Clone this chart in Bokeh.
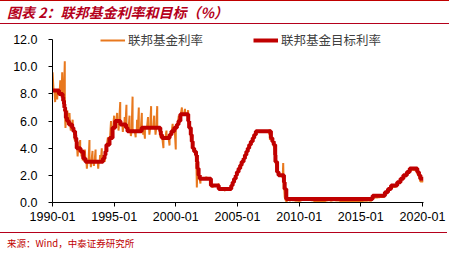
import pandas as pd
from bokeh.plotting import figure
from bokeh.layouts import column
from bokeh.models import Range1d, FixedTicker, DatetimeTickFormatter, Legend, LegendItem, NumeralTickFormatter, Div
from bokeh.embed import file_html
from bokeh.resources import INLINE

title_text = "图表 2：联邦基金利率和目标（%）"
source_text = "来源：Wind，中泰证券研究所"
series_names = ["联邦基金利率", "联邦基金目标利率"]
x_tick_dates = ["1990-01-01", "1995-01-01", "2000-01-01", "2005-01-01", "2010-01-01", "2015-01-01", "2020-01-01"]
y_ticks = [0, 2, 4, 6, 8, 10, 12]

# effective federal funds rate, monthly, 1990-01 .. 2020-02
eff_1990s = [
    8.23, 8.24, 8.28, 8.26, 8.18, 8.29, 8.15, 8.13, 8.20, 8.11, 7.81, 7.31,
    6.91, 6.25, 6.12, 5.91, 5.78, 5.90, 5.82, 5.66, 5.45, 5.21, 4.81, 4.43,
    4.03, 4.06, 3.98, 3.73, 3.82, 3.76, 3.25, 3.30, 3.22, 3.10, 3.09, 2.92,
    3.02, 3.03, 3.07, 2.96, 3.00, 3.04, 3.06, 3.03, 3.09, 2.99, 3.02, 2.96,
    3.05, 3.25, 3.34, 3.56, 4.01, 4.25, 4.26, 4.47, 4.73, 4.76, 5.29, 5.45,
    5.53, 5.92, 5.98, 6.05, 6.01, 6.00, 5.85, 5.74, 5.80, 5.76, 5.80, 5.60,
    5.56, 5.22, 5.31, 5.22, 5.24, 5.27, 5.40, 5.22, 5.30, 5.24, 5.31, 5.29,
    5.25, 5.19, 5.39, 5.51, 5.50, 5.56, 5.52, 5.54, 5.54, 5.50, 5.52, 5.50,
    5.56, 5.51, 5.49, 5.45, 5.49, 5.56, 5.54, 5.55, 5.51, 5.07, 4.83, 4.68,
    4.63, 4.76, 4.81, 4.74, 4.74, 4.76, 4.99, 5.07, 5.22, 5.20, 5.42, 5.30,
]
eff_2000s = [
    5.45, 5.73, 5.85, 6.02, 6.27, 6.53, 6.54, 6.50, 6.52, 6.51, 6.51, 6.40,
    5.98, 5.49, 5.31, 4.80, 4.21, 3.97, 3.77, 3.65, 3.07, 2.49, 2.09, 1.82,
    1.73, 1.74, 1.73, 1.75, 1.75, 1.75, 1.73, 1.74, 1.75, 1.75, 1.34, 1.24,
    1.24, 1.26, 1.25, 1.26, 1.26, 1.22, 1.01, 1.03, 1.01, 1.01, 1.00, 0.98,
    1.00, 1.01, 1.00, 1.00, 1.00, 1.03, 1.26, 1.43, 1.61, 1.76, 1.93, 2.16,
    2.28, 2.50, 2.63, 2.79, 3.00, 3.04, 3.26, 3.50, 3.62, 3.78, 4.00, 4.16,
    4.29, 4.49, 4.59, 4.79, 4.94, 4.99, 5.24, 5.25, 5.25, 5.25, 5.25, 5.24,
    5.25, 5.26, 5.26, 5.25, 5.25, 5.25, 5.26, 5.02, 4.94, 4.76, 4.49, 4.24,
    3.94, 2.98, 2.61, 2.28, 1.98, 2.00, 2.01, 2.00, 1.81, 0.97, 0.39, 0.16,
    0.15, 0.22, 0.18, 0.15, 0.18, 0.21, 0.16, 0.16, 0.15, 0.12, 0.12, 0.12,
]
eff_2010s = [
    0.11, 0.13, 0.16, 0.20, 0.20, 0.18, 0.18, 0.19, 0.19, 0.19, 0.19, 0.18,
    0.17, 0.16, 0.14, 0.10, 0.09, 0.09, 0.07, 0.10, 0.08, 0.07, 0.08, 0.07,
    0.08, 0.10, 0.13, 0.14, 0.16, 0.16, 0.16, 0.13, 0.14, 0.16, 0.16, 0.16,
    0.14, 0.15, 0.14, 0.15, 0.11, 0.09, 0.09, 0.08, 0.08, 0.09, 0.08, 0.09,
    0.07, 0.07, 0.08, 0.09, 0.09, 0.10, 0.09, 0.09, 0.09, 0.09, 0.09, 0.12,
    0.11, 0.11, 0.11, 0.12, 0.12, 0.13, 0.13, 0.14, 0.14, 0.12, 0.12, 0.24,
    0.34, 0.38, 0.36, 0.37, 0.37, 0.38, 0.39, 0.40, 0.40, 0.40, 0.41, 0.54,
    0.65, 0.66, 0.79, 0.90, 0.91, 1.04, 1.15, 1.16, 1.15, 1.15, 1.16, 1.30,
    1.41, 1.42, 1.51, 1.69, 1.70, 1.82, 1.91, 1.91, 1.95, 2.19, 2.20, 2.27,
    2.40, 2.40, 2.41, 2.42, 2.39, 2.38, 2.40, 2.13, 2.04, 1.83, 1.55, 1.55,
    1.55, 1.58,
]

# daily excursions of the effective rate
spike_dates = [
    "1990-01-03", "1990-03-20", "1990-05-20", "1990-08-20", "1990-10-15", "1990-12-31",
    "1991-01-20", "1991-03-15", "1991-05-20", "1991-06-28", "1991-08-20", "1991-10-20",
    "1992-01-15", "1992-03-31", "1992-05-10", "1992-06-15", "1992-08-15", "1992-10-15",
    "1992-12-31", "1993-02-10", "1993-03-31", "1993-05-10", "1993-06-30", "1993-09-15",
    "1993-11-10", "1993-12-31", "1994-03-31", "1994-06-30", "1994-09-30", "1994-12-31",
    "1995-03-31", "1995-05-10", "1995-06-30", "1995-09-15", "1995-11-10", "1995-12-31",
    "1996-03-31", "1996-05-10", "1996-06-30", "1996-09-30", "1996-11-10", "1996-12-31",
    "1997-03-31", "1997-05-10", "1997-06-30", "1997-09-30", "1997-11-10", "1997-12-31",
    "1998-03-31", "1998-05-10", "1998-06-30", "1998-09-30", "1998-12-31",
    "1999-03-31", "1999-06-30", "1999-09-30", "1999-12-31",
    "2000-03-31", "2000-06-30", "2000-09-30", "2000-12-31",
    "2001-03-31", "2001-09-15", "2001-12-31",
    "2002-06-30", "2002-12-31", "2003-06-30", "2003-12-31",
    "2007-08-10", "2007-08-20", "2008-01-22", "2008-09-16", "2008-10-10", "2008-12-31",
]
spike_values = [
    9.6, 7.4, 7.6, 9.0, 9.6, 10.4,
    5.5, 6.8, 6.6, 5.3, 6.1, 4.6,
    3.4, 4.6, 3.4, 3.1, 3.9, 2.5,
    4.6, 2.6, 3.8, 2.7, 3.9, 2.5,
    3.5, 4.0, 3.0, 4.8, 6.0, 6.4,
    6.6, 5.3, 7.4, 5.2, 6.3, 7.2,
    6.4, 4.9, 7.8, 4.8, 6.1, 7.0,
    6.6, 5.0, 4.7, 6.3, 5.0, 7.1,
    6.4, 5.0, 7.1, 4.8, 4.0,
    5.3, 4.2, 5.8, 3.9,
    6.4, 7.0, 6.9, 6.8,
    4.6, 1.1, 1.4,
    1.9, 1.1, 1.4, 0.85,
    5.4, 4.6, 3.3, 2.9, 1.3, 0.05,
]

# federal funds target rate (upper bound after 2008-12)
target_dates = [
    "1990-01-01", "1990-07-13", "1990-10-29", "1990-11-13", "1990-12-07", "1990-12-18",
    "1991-01-09", "1991-02-01", "1991-03-08", "1991-04-30", "1991-08-06", "1991-09-13",
    "1991-10-31", "1991-11-06", "1991-12-06", "1991-12-20", "1992-04-09", "1992-07-02",
    "1992-09-04", "1994-02-04", "1994-03-22", "1994-04-18", "1994-05-17", "1994-08-16",
    "1994-11-15", "1995-02-01", "1995-07-06", "1995-12-19", "1996-01-31", "1997-03-25",
    "1998-09-29", "1998-10-15", "1998-11-17", "1999-06-30", "1999-08-24", "1999-11-16",
    "2000-02-02", "2000-03-21", "2000-05-16", "2001-01-03", "2001-01-31", "2001-03-20",
    "2001-04-18", "2001-05-15", "2001-06-27", "2001-08-21", "2001-09-17", "2001-10-02",
    "2001-11-06", "2001-12-11", "2002-11-06", "2003-06-25", "2004-06-30", "2004-08-10",
    "2004-09-21", "2004-11-10", "2004-12-14", "2005-02-02", "2005-03-22", "2005-05-03",
    "2005-06-30", "2005-08-09", "2005-09-20", "2005-11-01", "2005-12-13", "2006-01-31",
    "2006-03-28", "2006-05-10", "2006-06-29", "2007-09-18", "2007-10-31", "2007-12-11",
    "2008-01-22", "2008-01-30", "2008-03-18", "2008-04-30", "2008-10-08", "2008-10-29",
    "2008-12-16", "2015-12-17", "2016-12-15", "2017-03-16", "2017-06-15", "2017-12-14",
    "2018-03-22", "2018-06-14", "2018-09-27", "2018-12-20", "2019-08-01", "2019-09-19",
    "2019-10-31", "2020-02-01",
]
target_levels = [
    8.25, 8.00, 7.75, 7.50, 7.25, 7.00,
    6.75, 6.25, 6.00, 5.75, 5.50, 5.25,
    5.00, 4.75, 4.50, 4.00, 3.75, 3.25,
    3.00, 3.25, 3.50, 3.75, 4.25, 4.75,
    5.50, 6.00, 5.75, 5.50, 5.25, 5.50,
    5.25, 5.00, 4.75, 5.00, 5.25, 5.50,
    5.75, 6.00, 6.50, 6.00, 5.50, 5.00,
    4.50, 4.00, 3.75, 3.50, 3.00, 2.50,
    2.00, 1.75, 1.25, 1.00, 1.25, 1.50,
    1.75, 2.00, 2.25, 2.50, 2.75, 3.00,
    3.25, 3.50, 3.75, 4.00, 4.25, 4.50,
    4.75, 5.00, 5.25, 4.75, 4.50, 4.25,
    3.50, 3.00, 2.25, 2.00, 1.50, 1.00,
    0.25, 0.50, 0.75, 1.00, 1.25, 1.50,
    1.75, 2.00, 2.25, 2.50, 2.25, 2.00,
    1.75, 1.75,
]

ORANGE = "#E8781E"
RED = "#C00000"
TITLE_RED = "#B5001B"
CJK = "Noto Sans CJK SC"
W = 449

# ---------- build effective series ----------
eff_vals = eff_1990s + eff_2000s + eff_2010s
eff_dates = pd.date_range("1990-01-01", periods=len(eff_vals), freq="MS")
eff = pd.concat([
    pd.Series(eff_vals, index=eff_dates),
    pd.Series(spike_values, index=pd.to_datetime(spike_dates)),
]).sort_index()
tgt_x = pd.to_datetime(target_dates)

# ---------- title strip ----------
title_div = Div(text=title_text, width=W, height=24, margin=0,
                styles={"box-sizing": "border-box", "width": f"{W}px", "height": "24px",
                        "border-top": f"1.5px solid {RED}",
                        "border-bottom": f"1px solid {TITLE_RED}",
                        "padding-left": "7px", "padding-top": "2px",
                        "font-family": CJK, "font-size": "14px", "font-weight": "bold",
                        "font-style": "italic", "color": TITLE_RED, "line-height": "18px",
                        "white-space": "nowrap", "overflow": "hidden"})

# ---------- main chart ----------
p = figure(width=W, height=208, x_axis_type="datetime",
           x_range=Range1d(pd.Timestamp("1990-01-01"), pd.Timestamp("2020-02-01")),
           y_range=Range1d(0, 12.6),
           output_backend="svg", toolbar_location=None,
           min_border_left=52, min_border_right=26, min_border_top=7, min_border_bottom=30)
p.grid.visible = False
p.outline_line_color = None

r_eff = p.line(eff.index, eff.values, line_color=ORANGE, line_width=2)
r_tgt = p.step(tgt_x, target_levels, mode="after", line_color=RED, line_width=4)

tick_ms = [pd.Timestamp(d).value / 1e6 for d in x_tick_dates]
p.xaxis.ticker = FixedTicker(ticks=tick_ms)
fmt = "%Y-%m"
p.xaxis.formatter = DatetimeTickFormatter(years=fmt, months=fmt, days=fmt, hours=fmt,
                                          hourmin=fmt, minutes=fmt, minsec=fmt,
                                          seconds=fmt, milliseconds=fmt, microseconds=fmt)
p.yaxis.ticker = FixedTicker(ticks=y_ticks)
p.yaxis.formatter = NumeralTickFormatter(format="0.0")
p.yaxis.bounds = (0, 12)
for ax in (p.xaxis, p.yaxis):
    ax.axis_line_color = "#000000"
    ax.major_tick_line_color = "#000000"
    ax.major_tick_in = 0
    ax.major_tick_out = 4
    ax.minor_tick_line_color = None
    ax.major_label_text_font = "Liberation Sans"
    ax.major_label_text_font_size = "12.5px"
    ax.major_label_text_color = "#000000"
p.yaxis.major_label_standoff = 11
p.xaxis.major_label_standoff = 5

legend = Legend(items=[LegendItem(label=series_names[0], renderers=[r_eff]),
                       LegendItem(label=series_names[1], renderers=[r_tgt])],
                orientation="horizontal", location=(48, 153),
                padding=0, margin=0, spacing=50, glyph_width=25, glyph_height=14,
                label_height=14, label_standoff=3,
                label_text_font=CJK, label_text_font_size="12.5px",
                label_text_color="#404040",
                border_line_color=None, background_fill_alpha=0)
p.add_layout(legend)

# ---------- source strip ----------
source_div = Div(text=source_text, width=W, height=22, margin=0,
                 styles={"box-sizing": "border-box", "width": f"{W - 2}px", "height": "22px",
                         "border-top": f"1px solid {TITLE_RED}",
                         "padding-left": "7px", "padding-top": "3px",
                         "font-family": CJK, "font-size": "9.5px", "color": RED,
                         "line-height": "14px", "white-space": "nowrap"})

layout = column(title_div, p, source_div, spacing=0)
open("out.html", "w").write(file_html(layout, INLINE))
